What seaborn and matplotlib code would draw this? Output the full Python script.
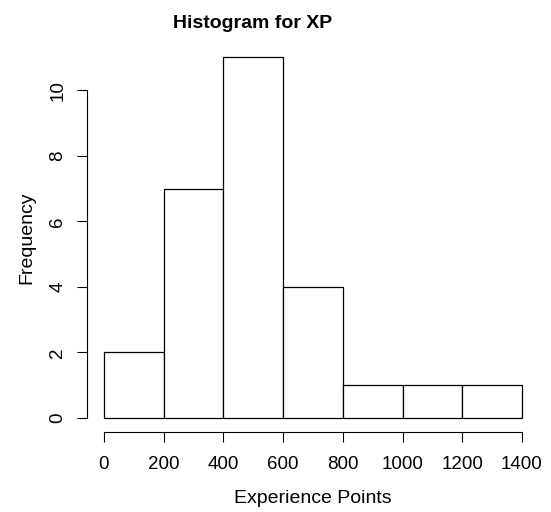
import numpy as np
import matplotlib
matplotlib.use("Agg")
import matplotlib.pyplot as plt
import seaborn as sns

# histogram data
bin_edges = [0, 200, 400, 600, 800, 1000, 1200, 1400]
bin_mids = [100, 300, 500, 700, 900, 1100, 1300]
counts = [2, 7, 11, 4, 1, 1, 1]
x_ticks = [0, 200, 400, 600, 800, 1000, 1200, 1400]
y_ticks = [0, 2, 4, 6, 8, 10]

sns.set_style("white")
plt.rcParams['font.family'] = ['Liberation Sans', 'DejaVu Sans']
plt.rcParams['text.color'] = 'black'
plt.rcParams['axes.labelcolor'] = 'black'
plt.rcParams['xtick.color'] = 'black'
plt.rcParams['ytick.color'] = 'black'

fig = plt.figure(figsize=(5.51, 5.12), dpi=100)
ax = fig.add_axes([0.1584, 0.1555, 0.8193, 0.7605])

sns.histplot(x=bin_mids, weights=counts, bins=bin_edges, ax=ax,
             color='white', edgecolor='black', linewidth=0.9, alpha=1)

# R-like axis extents (4% padding)
ax.set_xlim(-56, 1456)
ax.set_ylim(-0.44, 11.44)

for s in ['top', 'right']:
    ax.spines[s].set_visible(False)
ax.spines['bottom'].set_bounds(0, 1400)
ax.spines['left'].set_bounds(0, 10)
for s in ['bottom', 'left']:
    ax.spines[s].set_color('black')
    ax.spines[s].set_linewidth(0.8)

ax.set_xticks(x_ticks)
ax.set_yticks(y_ticks)
ax.tick_params(axis='both', direction='out', length=7, width=0.8, color='black',
               labelsize=13.5, labelcolor='black', bottom=True, left=True)
ax.tick_params(axis='x', pad=10)
ax.tick_params(axis='y', pad=8)
plt.setp(ax.get_yticklabels(), rotation=90, va='center')

ax.set_xlabel('Experience Points', fontsize=14, labelpad=12)
ax.set_ylabel('Frequency', fontsize=14, labelpad=10)
fig.text(253 / 551, 1 - 28 / 512, 'Histogram for XP', fontsize=14,
         fontweight='bold', ha='center', va='baseline', color='black')

fig.savefig('out.png', dpi=100)
